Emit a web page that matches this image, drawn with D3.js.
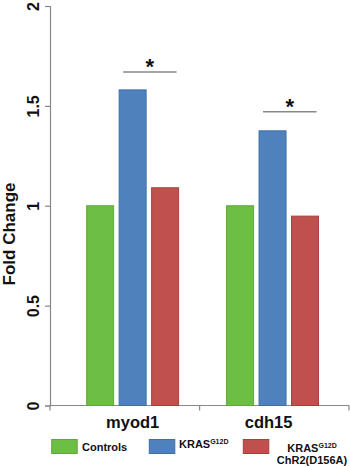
<!DOCTYPE html>
<html><head><meta charset="utf-8">
<script src="https://cdn.jsdelivr.net/npm/d3@7"></script>
<style>body{margin:0;background:#fff;}svg{display:block;font-family:Arial,"Liberation Sans",sans-serif;}</style>
</head><body>
<svg id="c" width="350" height="466"></svg>
<script>
const categories = ["myod1", "cdh15"];
const seriesNames = ["Controls", "KRAS", "KRASChR2"];
const controls = [1.0, 1.0];
const kras = [1.58, 1.375];
const krasChr2 = [1.09, 0.948];
const yTicks = [0, 0.5, 1, 1.5, 2];
const yTickLabels = ["0", "0.5", "1", "1.5", "2"];
const sigLevels = [1.67, 1.47];
const colors = ["#6DBE45", "#4F81BD", "#C0504D"];
const strokes = ["#5fa83a", "#3e6fa8", "#a8403d"];

const values = [controls, kras, krasChr2];
const svg = d3.select("#c");
const y = d3.scaleLinear().domain([0, 2]).range([405.5, 6]);
const x0 = d3.scaleBand().domain(categories).range([50, 349]).paddingInner(0.343).paddingOuter(0.24).align(0.546);
const x1 = d3.scaleBand().domain(seriesNames).range([0, x0.bandwidth()]).paddingInner(0.169);

// y axis
const yAxis = d3.axisLeft(y).tickValues(yTicks).tickSize(5).tickFormat((d, i) => yTickLabels[i]);
const gy = svg.append("g").attr("transform", "translate(50,0)").call(yAxis);
gy.select(".domain").attr("stroke", "#888").attr("stroke-width", 1.2);
gy.selectAll(".tick line").attr("stroke", "#888").attr("stroke-width", 1.2);
gy.selectAll(".tick text").attr("transform", "rotate(-90)").attr("x", 0).attr("y", -11)
  .attr("dy", 0).attr("text-anchor", "middle").style("font-size", "16px").style("font-weight", "bold").attr("fill", "#111");

// x axis
const xLine = svg.append("g");
xLine.append("line").attr("x1", 50).attr("x2", 349).attr("y1", y(0)).attr("y2", y(0)).attr("stroke", "#888").attr("stroke-width", 1.2);
const bounds = [x0.range()[0], (x0(categories[0]) + x0.bandwidth() + x0(categories[1])) / 2 - 3, x0.range()[1]];
xLine.selectAll(".sep").data(bounds).enter().append("line")
  .attr("x1", d => d).attr("x2", d => d).attr("y1", y(0)).attr("y2", y(0) + 5)
  .attr("stroke", "#888").attr("stroke-width", 1.2);
svg.selectAll(".cat").data(categories).enter().append("text")
  .attr("x", d => x0(d) + x0.bandwidth() / 2 - (d === "cdh15" ? 4 : 0)).attr("y", 427.5)
  .attr("text-anchor", "middle").style("font-size", "16.5px").style("font-weight", "bold").attr("fill", "#111").text(d => d);

// bars
const g = svg.append("g");
categories.forEach((cat, ci) => {
  seriesNames.forEach((s, si) => {
    g.append("rect")
      .attr("x", x0(cat) + x1(s)).attr("width", x1.bandwidth())
      .attr("y", y(values[si][ci])).attr("height", y(0) - y(values[si][ci]))
      .attr("fill", colors[si]).attr("stroke", strokes[si]).attr("stroke-width", 1);
  });
});

// significance
categories.forEach((cat, ci) => {
  const xa = x0(cat) + x1(seriesNames[1]) + 4;
  const xb = x0(cat) + x1(seriesNames[2]) + x1.bandwidth() - 2;
  svg.append("line").attr("x1", xa).attr("x2", xb).attr("y1", y(sigLevels[ci])).attr("y2", y(sigLevels[ci]))
    .attr("stroke", "#888").attr("stroke-width", 1.5);
  svg.append("text").attr("x", (xa + xb) / 2).attr("y", y(sigLevels[ci]) + 2)
    .attr("text-anchor", "middle").style("font-size", "22px").style("font-weight", "bold").attr("fill", "#111").text("*");
});

// y label
svg.append("text").attr("transform", "translate(15,234) rotate(-90)").attr("text-anchor", "middle")
  .style("font-size", "17px").style("font-weight", "bold").attr("fill", "#111").text("Fold Change");

// legend
const legX = [51.7, 149.3, 243.3];
const leg = svg.append("g");
seriesNames.forEach((s, i) => {
  leg.append("rect").attr("x", legX[i]).attr("y", 439.5).attr("width", 25.5).attr("height", 14)
    .attr("fill", colors[i]).attr("stroke", strokes[i]);
});
leg.append("text").attr("x", 82).attr("y", 451).style("font-size", "11px").style("font-weight", "bold").attr("fill", "#111").text("Controls");
const t2 = leg.append("text").attr("x", 179).attr("y", 448).style("font-size", "11px").style("font-weight", "bold").attr("fill", "#111");
t2.append("tspan").text("KRAS");
t2.append("tspan").attr("dy", -4).style("font-size", "7px").text("G12D");
const t3 = leg.append("text").attr("x", 312).attr("y", 451.5).attr("text-anchor", "middle").style("font-size", "11px").style("font-weight", "bold").attr("fill", "#111");
t3.append("tspan").text("KRAS");
t3.append("tspan").attr("dy", -4).style("font-size", "7px").text("G12D");
leg.append("text").attr("x", 312).attr("y", 464).attr("text-anchor", "middle").style("font-size", "11px").style("font-weight", "bold").attr("fill", "#111").text("ChR2(D156A)");
</script>
</body></html>
